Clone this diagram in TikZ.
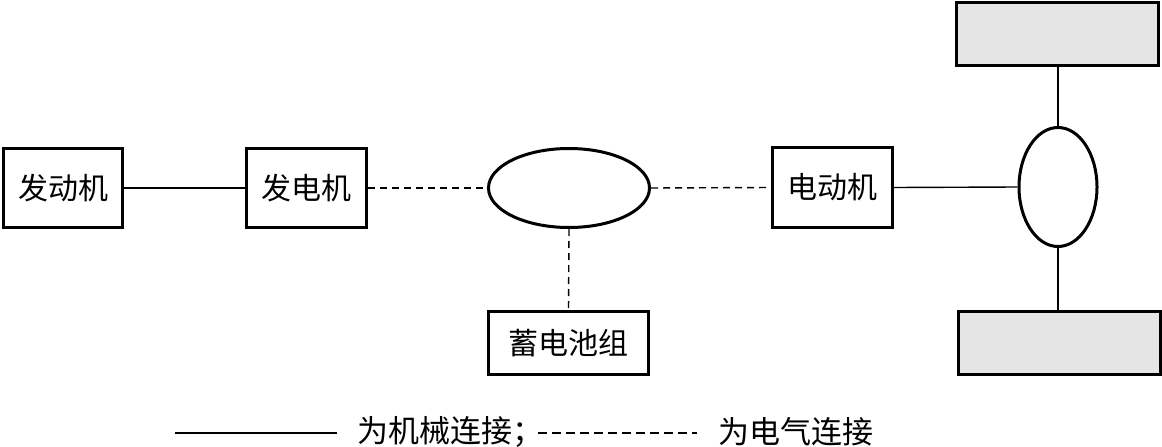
\documentclass[tikz,border=0pt]{standalone}
\usepackage{fontspec}
\setmainfont{Noto Sans CJK SC}
\usetikzlibrary{shapes.geometric}
\begin{document}
\begin{tikzpicture}[x=1pt,y=-1pt,
  blk/.style={draw,line width=3pt,rectangle,inner sep=0pt,font=\fontsize{30}{34}\selectfont},
  oval/.style={draw,line width=3pt,ellipse,inner sep=0pt},
  wheel/.style={draw,line width=3pt,rectangle,fill=black!10,inner sep=0pt,minimum width=202pt,minimum height=63pt},
  mech/.style={line width=1.4pt},
  elec/.style={line width=1.4pt,dash pattern=on 7pt off 5pt},
  elecl/.style={line width=1.4pt,dash pattern=on 9pt off 5pt},
  lbl/.style={inner sep=0pt,anchor=west,font=\fontsize{31}{34}\selectfont}]
\useasboundingbox (0,0) rectangle (1162,447);
\node[blk,minimum width=119pt,minimum height=79pt] (eng) at (63,188) {发动机};
\node[blk,minimum width=120pt,minimum height=79pt] (gen) at (306.5,188) {发电机};
\node[oval,minimum width=161pt,minimum height=79pt] (ctl) at (569,188) {};
\node[blk,minimum width=120pt,minimum height=80pt] (mot) at (832.5,187.5) {电动机};
\node[oval,minimum width=78pt,minimum height=119pt] (axl) at (1058,187) {};
\node[wheel] (wt) at (1057.5,34) {};
\node[wheel] (wb) at (1059,343) {};
\node[blk,minimum width=160pt,minimum height=63pt] (bat) at (568.5,343) {蓄电池组};
\draw[mech] (eng) -- (gen);
\draw[elec] (gen.east) -- (ctl.west);
\draw[elec] (ctl.east) -- (mot.west);
\draw[elec] (ctl.south) -- (bat.north);
\draw[mech] (mot.east) -- (axl.west);
\draw[mech] (axl.north) -- (wt.south -| axl.north);
\draw[mech] (axl.south) -- (wb.north -| axl.south);
% legend
\coordinate (m1) at (175,433);
\coordinate (m2) at (337,433);
\node[lbl] (mt) at (357,432) {为机械连接；};
\coordinate (e1) at (538,433);
\coordinate (e2) at (697,433);
\node[lbl] (et) at (718,432) {为电气连接};
\draw[mech] (m1) -- (m2);
\draw[elecl] (e1) -- (e2);
\end{tikzpicture}
\end{document}
